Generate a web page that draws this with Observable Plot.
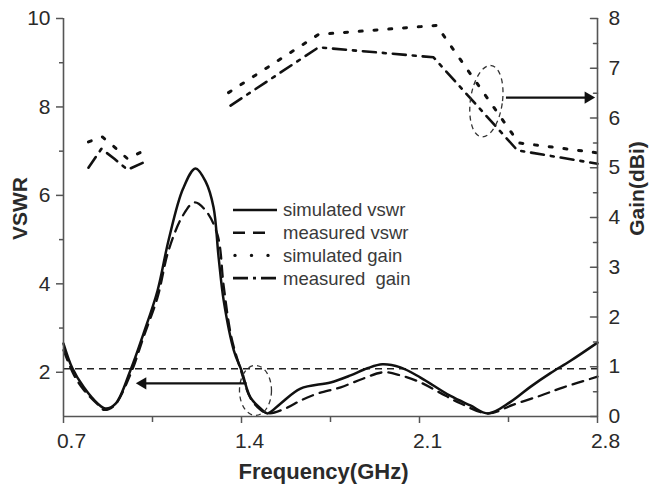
<!DOCTYPE html>
<html><head><meta charset="utf-8">
<script src="https://cdn.jsdelivr.net/npm/d3@7"></script>
<script src="https://cdn.jsdelivr.net/npm/@observablehq/plot@0.6"></script>
<style>
html,body{margin:0;padding:0;background:#fff;}
#chart{position:relative;width:649px;height:489px;overflow:hidden;}
#legend{position:absolute;left:0;top:0;pointer-events:none;}
</style></head>
<body><div id="chart"></div>
<script>
// ---- scales / ticks ----
const xDomain = [0.7, 2.8];
const vswrDomain = [1, 10];
const gainDomain = [0, 8];
const xTicks = [0.7, 1.4, 2.1, 2.8];
const xMinorTicks = [1.05, 1.75, 2.45];
const vswrTicks = [2, 4, 6, 8, 10];
const vswrMinorTicks = [3, 5, 7, 9];
const gainTicks = [0, 1, 2, 3, 4, 5, 6, 7, 8];
const gainMinorTicks = [0.5, 1.5, 2.5, 3.5, 4.5, 5.5, 6.5, 7.5];

// ---- simulated VSWR ----
const simVswrFreq = [0.70, 0.735, 0.78, 0.835, 0.865, 0.905, 0.963, 1.015, 1.07, 1.113, 1.17, 1.219, 1.26, 1.29, 1.31, 1.33, 1.37, 1.40, 1.435, 1.475, 1.502, 1.553, 1.632, 1.75, 1.829, 1.895, 1.954, 2.025, 2.104, 2.22, 2.30, 2.37, 2.458, 2.536, 2.615, 2.694, 2.80];
const simVswr     = [2.65, 2.09, 1.66, 1.29, 1.18, 1.29, 2.04, 2.88, 3.85, 4.98, 6.15, 6.61, 6.30, 5.73, 4.60, 3.62, 2.49, 2.04, 1.43, 1.18, 1.07, 1.29, 1.63, 1.77, 1.93, 2.09, 2.18, 2.11, 1.88, 1.47, 1.25, 1.07, 1.33, 1.67, 1.98, 2.26, 2.67];

// ---- measured VSWR ----
const measVswrFreq = [0.70, 0.74, 0.78, 0.835, 0.86, 0.90, 0.963, 1.015, 1.07, 1.113, 1.17, 1.215, 1.26, 1.306, 1.33, 1.36, 1.40, 1.435, 1.475, 1.506, 1.58, 1.632, 1.70, 1.79, 1.88, 1.958, 2.025, 2.104, 2.18, 2.26, 2.37, 2.47, 2.575, 2.666, 2.80];
const measVswr     = [2.50, 1.95, 1.60, 1.27, 1.15, 1.25, 1.95, 2.80, 3.70, 4.75, 5.55, 5.84, 5.65, 5.10, 3.95, 2.80, 2.00, 1.42, 1.15, 1.07, 1.20, 1.36, 1.52, 1.66, 1.86, 2.00, 1.93, 1.77, 1.54, 1.30, 1.07, 1.27, 1.47, 1.66, 1.90];

// ---- simulated gain (dBi), two segments ----
const simGainFreq = [0.798, 0.853, 0.904, 0.952, 1.007, 1.349, 1.703, 2.167, 2.49, 2.80];
const simGain     = [5.52, 5.62, 5.40, 5.18, 5.32, 6.51, 7.68, 7.86, 5.50, 5.30];
const simGainSeg  = [0, 0, 0, 0, 0, 1, 1, 1, 1, 1];

// ---- measured gain (dBi), two segments ----
const measGainFreq = [0.798, 0.849, 0.90, 0.952, 1.03, 1.357, 1.703, 2.155, 2.485, 2.80];
const measGain     = [5.00, 5.38, 5.18, 4.96, 5.14, 6.25, 7.42, 7.22, 5.35, 5.08];
const measGainSeg  = [0, 0, 0, 0, 0, 1, 1, 1, 1, 1];

// ---- annotations ----
const vswrRefLevel = [2.08];
const leftArrowFreq = [1.42, 1.0];     // from, to
const leftArrowVswr = [1.75];
const rightArrowFreq = [2.44, 2.775];  // from, to
const rightArrowGain = [6.41];
const ellipseFreq = [1.455, 2.363];
const ellipseVswr = [1.59, 8.13];

const legendLabels = ["simulated vswr", "measured vswr", "simulated gain", "measured  gain"];

// gain -> vswr-axis coordinate (right axis shares the plot area)
const gToV = g => vswrDomain[0] + (g - gainDomain[0]) * (vswrDomain[1] - vswrDomain[0]) / (gainDomain[1] - gainDomain[0]);
const vToG = v => gainDomain[0] + (v - vswrDomain[0]) * (gainDomain[1] - gainDomain[0]) / (vswrDomain[1] - vswrDomain[0]);

const simV = simVswrFreq.map((f, i) => ({f, v: simVswr[i]}));
const measV = measVswrFreq.map((f, i) => ({f, v: measVswr[i]}));
const simG = simGainFreq.map((f, i) => ({f, g: simGain[i], s: simGainSeg[i]}));
const measG = measGainFreq.map((f, i) => ({f, g: measGain[i], s: measGainSeg[i]}));

const tickShape = {draw(ctx, l) { ctx.moveTo(0, 0); ctx.lineTo(0, -l); }};
function ellipseSymbol(rx, ry) {
  const k = 0.5523;
  return {draw(ctx) {
    ctx.moveTo(rx, 0);
    ctx.bezierCurveTo(rx, ry * k, rx * k, ry, 0, ry);
    ctx.bezierCurveTo(-rx * k, ry, -rx, ry * k, -rx, 0);
    ctx.bezierCurveTo(-rx, -ry * k, -rx * k, -ry, 0, -ry);
    ctx.bezierCurveTo(rx * k, -ry, rx, -ry * k, rx, 0);
    ctx.closePath();
  }};
}

const AX = "#555", TX = "#2a2a2a", INK = "#111";
const font = "'Liberation Sans', Arial, Helvetica, sans-serif";

const plot = Plot.plot({
  width: 649, height: 489,
  marginLeft: 63, marginRight: 52, marginTop: 18, marginBottom: 73,
  x: {domain: xDomain},
  y: {domain: vswrDomain},
  style: {fontFamily: font, background: "#fff", color: TX, overflow: "visible"},
  marks: [
    // reference dashed line
    Plot.ruleY(vswrRefLevel, {stroke: "#222", strokeWidth: 1.7, strokeDasharray: "7,5"}),
    // VSWR curves
    Plot.line(simV, {x: "f", y: "v", curve: "catmull-rom", stroke: INK, strokeWidth: 2.5}),
    Plot.line(measV, {x: "f", y: "v", curve: "catmull-rom", stroke: INK, strokeWidth: 2.3, strokeDasharray: "11,7"}),
    // Gain curves
    Plot.line(simG, {x: "f", y: d => gToV(d.g), z: "s", stroke: INK, strokeWidth: 3, strokeDasharray: "3,11.8"}),
    Plot.line(measG, {x: "f", y: d => gToV(d.g), z: "s", stroke: INK, strokeWidth: 2.6, strokeDasharray: "13,7,3,7"}),
    // dashed ellipses
    Plot.dot([0], {x: ellipseFreq[0], y: ellipseVswr[0], symbol: ellipseSymbol(16, 25), stroke: "#333", strokeWidth: 1.3, strokeDasharray: "5,4", fill: "none"}),
    Plot.dot([0], {x: ellipseFreq[1], y: ellipseVswr[1], symbol: ellipseSymbol(16, 36), rotate: 8, stroke: "#333", strokeWidth: 1.3, strokeDasharray: "5,4", fill: "none"}),
    // arrows
    Plot.link([0], {x1: leftArrowFreq[0], x2: leftArrowFreq[1], y1: leftArrowVswr[0], y2: leftArrowVswr[0], stroke: INK, strokeWidth: 2.2}),
    Plot.dot([0], {x: leftArrowFreq[1], y: leftArrowVswr[0], symbol: "triangle", r: 4.5, rotate: -90, fill: INK, dx: 3}),
    Plot.link([0], {x1: rightArrowFreq[0], x2: rightArrowFreq[1], y1: gToV(rightArrowGain[0]), y2: gToV(rightArrowGain[0]), stroke: INK, strokeWidth: 2.2}),
    Plot.dot([0], {x: rightArrowFreq[1], y: gToV(rightArrowGain[0]), symbol: "triangle", r: 4.5, rotate: 90, fill: INK, dx: -3}),
    // axis lines
    Plot.ruleX([xDomain[0]], {stroke: AX, strokeWidth: 1.6}),
    Plot.ruleX([xDomain[1]], {stroke: AX, strokeWidth: 1.6}),
    Plot.ruleY([vswrDomain[0]], {stroke: AX, strokeWidth: 1.6}),
    // bottom axis
    Plot.axisX({ticks: xTicks, tickSize: 7, tickFormat: () => "", label: null, color: AX, strokeWidth: 1.5}),
    Plot.axisX({ticks: xMinorTicks, tickSize: 6, tickFormat: () => "", label: null, color: AX, strokeWidth: 1.5}),
    Plot.axisX({ticks: xTicks, tickSize: 0, tickPadding: 17, tickFormat: d => d.toFixed(1), fontSize: 21, dx: 8, label: null, color: TX}),
    // left axis
    Plot.axisY({ticks: vswrTicks, tickSize: 7, tickFormat: () => "", label: null, color: AX, strokeWidth: 1.5}),
    Plot.axisY({ticks: vswrMinorTicks, tickSize: 4, tickFormat: () => "", label: null, color: AX, strokeWidth: 1.5}),
    Plot.axisY({ticks: vswrTicks, tickSize: 0, tickPadding: 13, fontSize: 21, label: null, color: TX}),
    // right axis (gain)
    Plot.vector(gainTicks.map(gToV), {y: d => d, frameAnchor: "right", length: 7, rotate: -90, anchor: "start", shape: tickShape, stroke: AX, strokeWidth: 1.5}),
    Plot.vector(gainMinorTicks.map(gToV), {y: d => d, frameAnchor: "right", length: 4, rotate: -90, anchor: "start", shape: tickShape, stroke: AX, strokeWidth: 1.5}),
    Plot.axisY({anchor: "right", ticks: gainTicks.map(gToV), tickFormat: v => String(Math.round(vToG(v))), tickSize: 0, tickPadding: 11, fontSize: 21, label: null, color: TX}),
    // axis titles
    Plot.text(["VSWR"], {text: d => d, frameAnchor: "left", textAnchor: "middle", dx: -43, dy: -9, rotate: -90, fontSize: 21, fontWeight: "bold", fill: TX}),
    Plot.text(["Gain(dBi)"], {text: d => d, frameAnchor: "right", textAnchor: "middle", dx: 40, dy: -29, rotate: -90, fontSize: 21, fontWeight: "bold", fill: TX}),
    Plot.text(["Frequency(GHz)"], {text: d => d, frameAnchor: "bottom", textAnchor: "middle", dx: -7, dy: 62, fontSize: 22, fontWeight: "bold", fill: TX})
  ]
});

const chart = document.getElementById("chart");
chart.appendChild(plot);

// ---- in-plot legend overlay ----
const legendStyles = [
  {dash: null, x1: 233, x2: 277, w: 2.5, cap: "butt"},
  {dash: "12,8", x1: 233, x2: 265, w: 2.5, cap: "butt"},
  {dash: "0,16.5", x1: 235, x2: 269, w: 3.4, cap: "round"},
  {dash: "15,5,3,5", x1: 233, x2: 277, w: 2.6, cap: "butt"}
];
const lsvg = d3.select(chart).append("svg").attr("id", "legend").attr("width", 649).attr("height", 489);
legendLabels.forEach((lab, i) => {
  const y = 210 + i * 22.7;
  const s = legendStyles[i];
  lsvg.append("line").attr("x1", s.x1).attr("x2", s.x2).attr("y1", y).attr("y2", y)
    .attr("stroke", INK).attr("stroke-width", s.w).attr("stroke-linecap", s.cap)
    .attr("stroke-dasharray", s.dash);
  lsvg.append("text").attr("x", 283).attr("y", y).attr("dy", "0.35em")
    .attr("font-family", font).attr("font-size", 18.5).attr("fill", "#3a3a3a")
    .style("white-space", "pre").text(lab);
});
</script>
</body></html>
